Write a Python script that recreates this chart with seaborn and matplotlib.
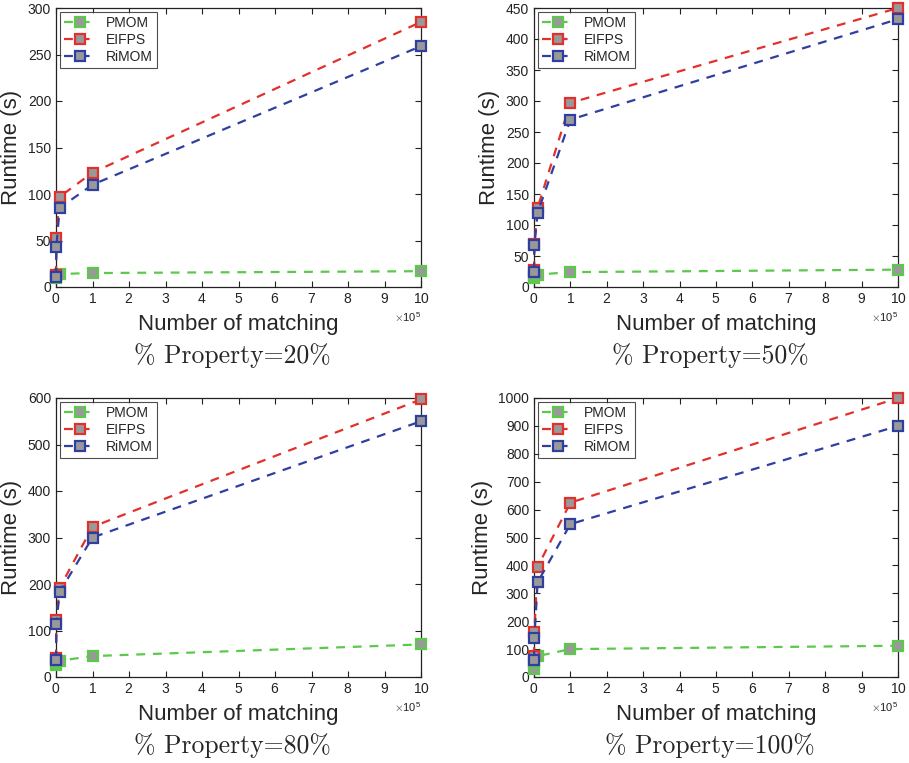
import numpy as np
import pandas as pd
import matplotlib
matplotlib.use("Agg")
import matplotlib.pyplot as plt
import seaborn as sns
from matplotlib.ticker import ScalarFormatter

sns.set_theme(style="white")
plt.rcParams['font.family'] = ['Liberation Sans', 'DejaVu Sans']
plt.rcParams['mathtext.fontset'] = 'cm'

x_matching = [100, 1000, 10000, 100000, 1000000]
methods = ["PMOM", "EIFPS", "RiMOM"]
titles = ["% Property=20%", "% Property=50%", "% Property=80%", "% Property=100%"]

pmom_20 = [10, 12, 14, 15, 17]
eifps_20 = [13, 53, 97, 123, 285]
rimom_20 = [11, 43, 85, 110, 259]

pmom_50 = [15, 18, 20, 24, 28]
eifps_50 = [27, 70, 128, 297, 450]
rimom_50 = [25, 67, 120, 270, 432]

pmom_80 = [25, 30, 35, 45, 70]
eifps_80 = [40, 122, 192, 323, 597]
rimom_80 = [37, 115, 183, 300, 550]

pmom_100 = [30, 50, 75, 100, 112]
eifps_100 = [75, 160, 395, 625, 1000]
rimom_100 = [60, 140, 340, 548, 900]

panels = [
    (pmom_20, eifps_20, rimom_20, 300, 50),
    (pmom_50, eifps_50, rimom_50, 450, 50),
    (pmom_80, eifps_80, rimom_80, 600, 100),
    (pmom_100, eifps_100, rimom_100, 1000, 100),
]

colors = {"PMOM": "#5cc84c", "EIFPS": "#e2302c", "RiMOM": "#2f3fa0"}

fig = plt.figure(figsize=(9.09, 7.63), dpi=100)
W, H = 909, 763
boxes = [(56, 8, 421, 287), (534, 8, 898, 287), (56, 398, 421, 677), (534, 398, 898, 677)]

for i, (pm, ei, ri, ymax, ystep) in enumerate(panels):
    l, t, r, b = boxes[i]
    ax = fig.add_axes([l / W, 1 - b / H, (r - l) / W, (b - t) / H])
    df = pd.DataFrame({
        "x": x_matching * 3,
        "y": pm + ei + ri,
        "method": [m for m in methods for _ in x_matching],
    })
    for m in methods:
        sub = df[df["method"] == m]
        sns.lineplot(data=sub, x="x", y="y", ax=ax, color=colors[m], label=m,
                     linestyle=(0, (4, 3.5)), linewidth=1.6, marker="s", markersize=7,
                     markerfacecolor="#999999", markeredgecolor=colors[m],
                     markeredgewidth=1.6, zorder=3, clip_on=False)
    ax.set_xlim(0, 1000000)
    ax.set_ylim(0, ymax)
    ax.set_xticks(np.arange(0, 1000001, 100000))
    ax.set_yticks(np.arange(0, ymax + 1, ystep))
    fmt = ScalarFormatter(useMathText=True)
    fmt.set_powerlimits((5, 5))
    ax.xaxis.set_major_formatter(fmt)
    ax.xaxis.get_offset_text().set_fontsize(8)
    ax.xaxis.get_offset_text().set_color("#333333")
    ax.tick_params(direction="in", length=4, width=0.8, labelsize=10, colors="#222222",
                   top=True, right=True, bottom=True, left=True)
    for s in ax.spines.values():
        s.set_visible(True)
        s.set_color("#222222")
        s.set_linewidth(0.9)
    ax.set_xlabel("Number of matching", fontsize=16, labelpad=6)
    ax.set_ylabel("Runtime (s)", fontsize=16, labelpad=4)
    leg = ax.legend(loc="upper left", fontsize=10, frameon=True, fancybox=False,
                    handlelength=2.2, borderpad=0.3, labelspacing=0.2,
                    borderaxespad=0.3)
    leg.get_frame().set_edgecolor("#222222")
    leg.get_frame().set_linewidth(0.8)
    cx = ((l + r) / 2 - 6) / W
    fig.text(cx, 1 - (b + 69) / H, titles[i], family=['cmr10', 'DejaVu Serif'],
             ha="center", va="center", fontsize=18.5)

fig.savefig("out.png", dpi=100)
